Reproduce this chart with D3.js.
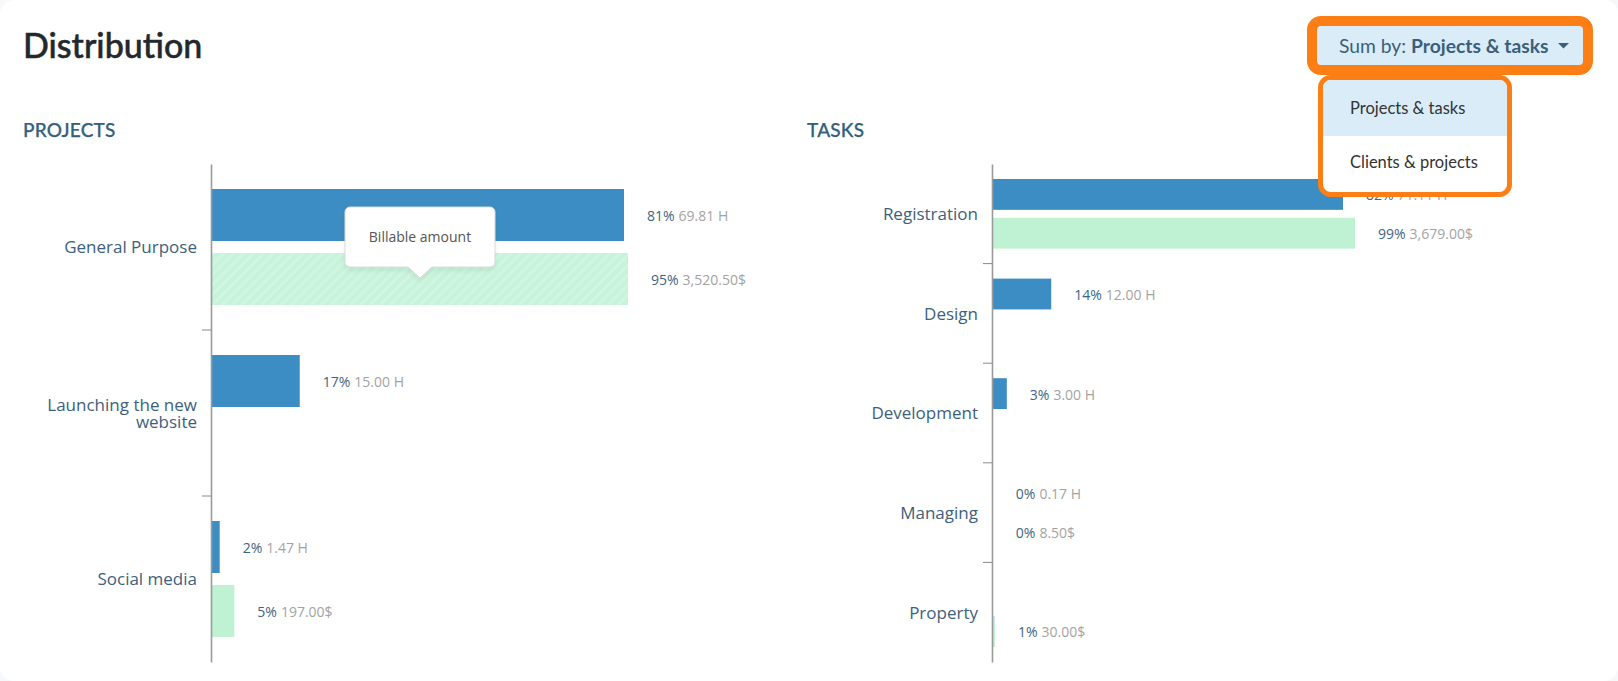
<!DOCTYPE html>
<html><head><meta charset="utf-8">
<script src="https://cdnjs.cloudflare.com/ajax/libs/d3/7.8.5/d3.min.js"></script>
<style>
html,body{margin:0;padding:0;background:#f6f8f9;width:1618px;height:681px;overflow:hidden}
svg{display:block}
text{font-family:"Open Sans",sans-serif}
.lato{font-family:Lato,sans-serif}
</style></head><body>
<svg id="c" width="1618" height="681"></svg>
<script>
const projectCategories = ["General Purpose", "Launching the new website", "Social media"];
const projectHours = [69.81, 15.00, 1.47];
const projectHoursPct = [81, 17, 2];
const projectAmounts = [3520.50, null, 197.00];
const projectAmountsPct = [95, null, 5];

const taskCategories = ["Registration", "Design", "Development", "Managing", "Property"];
const taskHours = [71.11, 12.00, 3.00, 0.17, null];
const taskHoursPct = [82, 14, 3, 0, null];
const taskAmounts = [3679.00, null, null, 8.50, 30.00];
const taskAmountsPct = [99, null, null, 0, 1];

const menuItems = ["Projects & tasks", "Clients & projects"];

const svg = d3.select("#c");
svg.append("rect").attr("width",1618).attr("height",681).attr("rx",14).attr("fill","#fff");
const defs = svg.append("defs");
const pat = defs.append("pattern").attr("id","hatch").attr("width",7).attr("height",7)
  .attr("patternUnits","userSpaceOnUse").attr("patternTransform","rotate(45)");
pat.append("rect").attr("width",7).attr("height",7).attr("fill","#c6f3da");
pat.append("rect").attr("width",3).attr("height",7).attr("fill","#d0f5e1");
const shadow = defs.append("filter").attr("id","sh").attr("x","-20%").attr("y","-20%").attr("width","140%").attr("height","150%");
shadow.append("feDropShadow").attr("dx",0).attr("dy",3).attr("stdDeviation",2.5).attr("flood-color","#000").attr("flood-opacity",0.07);

const BLUE="#3c8dc3", GREEN="#bff1d3", LABEL="#3d5f7c", PCT="#3f6482", VAL="#a3a3a3";

svg.append("text").attr("class","lato").attr("x",23).attr("y",58).attr("font-size",34).attr("font-weight",500)
  .attr("fill","#23282d").attr("stroke","#23282d").attr("stroke-width",0.5).text("Distribution");

function wrapLabel(sel, width){
  sel.each(function(){
    const t=d3.select(this), words=t.text().split(" "), x=t.attr("x");
    if(words.join(" ").length<=width) return;
    const a=words.slice(0,-1).join(" "), b=words[words.length-1];
    t.text(null);
    t.append("tspan").attr("x",x).attr("dy","-0.2em").text(a);
    t.append("tspan").attr("x",x).attr("dy","1.05em").text(b);
  });
}

function panel(o){
  const g = svg.append("g");
  g.append("text").attr("class","lato").attr("x",o.titleX).attr("y",136.5).attr("font-size",19).attr("font-weight",500)
    .attr("letter-spacing",0.2).attr("stroke","#33607c").attr("stroke-width",0.25).attr("fill","#33607c").text(o.title);
  const y = d3.scaleBand().domain(o.cats).range([164,662]);
  const band = y.bandwidth();
  const inner = d3.scaleBand().domain(["h","a"]).range([o.pad, band-o.pad]).paddingInner(o.gap);
  const xH = d3.scaleLinear().domain([0,o.hMax]).range([o.x0,o.hEnd]);
  const xA = d3.scaleLinear().domain([0,o.aMax]).range([o.x0,o.aEnd]);

  const rows = o.cats.map((c,i)=>({c,i,h:o.hours[i],hp:o.hoursPct[i],a:o.amounts[i],ap:o.amountsPct[i]}));

  rows.forEach(r=>{
    const top=y(r.c);
    const hy=top+inner("h"), ay=top+inner("a"), bh=inner.bandwidth();
    if(r.h!=null){
      g.append("rect").attr("x",o.x0).attr("y",hy).attr("width",xH(r.h)-o.x0).attr("height",bh).attr("fill",BLUE);
      lab(g, xH(r.h)+23, hy+bh/2+1, r.hp, r.h.toFixed(2)+" H");
    }
    if(r.a!=null){
      g.append("rect").attr("x",o.x0).attr("y",ay).attr("width",xA(r.a)-o.x0).attr("height",bh)
        .attr("fill", (o.hatchIdx===r.i) ? "url(#hatch)" : GREEN);
      lab(g, xA(r.a)+23, ay+bh/2+1, r.ap, d3.format(",.2f")(r.a)+"$");
    }
  });

  const ax = g.append("g").attr("transform",`translate(${o.x0},0)`)
    .call(d3.axisLeft(y).tickSize(0).tickPadding(14));
  ax.select(".domain").attr("stroke","#9a9a9a").attr("stroke-width",1.6);
  ax.selectAll("text").attr("font-size",17).attr("fill",LABEL).attr("transform","translate(0,1)").call(wrapLabel,18);
  g.selectAll(null).data(o.cats.slice(1)).enter().append("line")
    .attr("x1",o.x0-9).attr("x2",o.x0).attr("y1",d=>y(d)).attr("y2",d=>y(d))
    .attr("stroke","#8a8a8a").attr("stroke-width",1);
}
function lab(g,x,y,p,v){
  const t=g.append("text").attr("x",x).attr("y",y).attr("dy","0.35em").attr("font-size",14);
  t.append("tspan").attr("font-weight",500).attr("fill",PCT).text(p+"%");
  t.append("tspan").attr("dx",4).attr("fill",VAL).text(v);
}

panel({title:"PROJECTS",titleX:23,cats:projectCategories,hours:projectHours,hoursPct:projectHoursPct,amounts:projectAmounts,amountsPct:projectAmountsPct,
  x0:211,hMax:69.81,hEnd:624,aMax:3520.5,aEnd:628,pad:25,gap:12/64,hatchIdx:0});
panel({title:"TASKS",titleX:807,cats:taskCategories,hours:taskHours,hoursPct:taskHoursPct,amounts:taskAmounts,amountsPct:taskAmountsPct,
  x0:992,hMax:71.11,hEnd:1343,aMax:3679,aEnd:1355,pad:15,gap:8/39,hatchIdx:-1});

// tooltip
const tip = svg.append("g");
tip.append("path").attr("d","M350 207H490a5 5 0 0 1 5 5V262a5 5 0 0 1 -5 5H432L420 278L408 267H350a5 5 0 0 1 -5 -5V212a5 5 0 0 1 5 -5Z")
  .attr("fill","#fff").attr("stroke","#d9d9d9").attr("stroke-width",1).attr("filter","url(#sh)");
tip.append("text").attr("x",420).attr("y",242).attr("text-anchor","middle").attr("font-size",14).attr("fill","#555").text("Billable amount");

// Button with orange highlight
svg.append("rect").attr("x",1312).attr("y",21).attr("width",276).attr("height",49).attr("rx",9).attr("fill","#daecf8").attr("stroke","#fd7e14").attr("stroke-width",10);
const btn = svg.append("text").attr("class","lato").attr("x",1339).attr("y",53).attr("font-size",19.3).attr("fill","#3a5f7a");
btn.append("tspan").text("Sum by: ");
btn.append("tspan").attr("font-weight",700).text(menuItems[0]);
svg.append("path").attr("d","M1558 43H1569L1563.5 48.5Z").attr("fill","#3a5f7a");

// Dropdown
svg.append("rect").attr("x",1320.5).attr("y",77.5).attr("width",189).attr("height",117).attr("rx",10).attr("fill","#fff").attr("stroke","#fd7e14").attr("stroke-width",5);
svg.append("path").attr("d","M1323 136V88a8 8 0 0 1 8 -8H1499a8 8 0 0 1 8 8V136Z").attr("fill","#daecf8");
svg.selectAll(null).data(menuItems).enter().append("text").attr("class","lato")
  .attr("x",1350).attr("y",(d,i)=>114+i*54).attr("font-size",16.5).attr("fill","#333").text(d=>d);
</script>
</body></html>
